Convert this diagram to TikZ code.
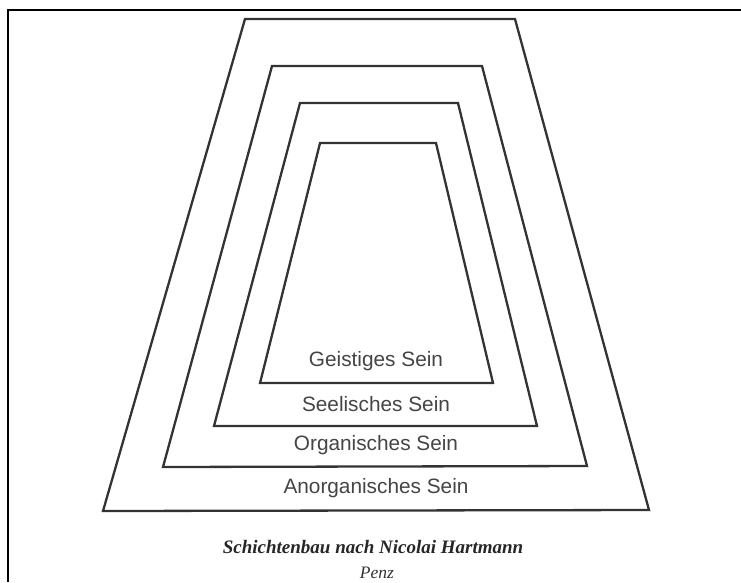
\documentclass[tikz,border=0pt]{standalone}
\usepackage{fontspec}
\setmainfont{Liberation Serif}
\newfontfamily\labelfont{Liberation Sans}
\definecolor{edgegray}{HTML}{333333}
\definecolor{textgray}{HTML}{454545}
\begin{document}
\begin{tikzpicture}[x=1pt,y=-1pt,
  layer/.style={draw=edgegray,line width=2.3pt,line join=miter},
  frameline/.style={draw=black,line width=2.6pt},
  layerlabel/.style={font=\labelfont\fontsize{20.8}{23}\selectfont,text=textgray,inner sep=0pt},
  captionbold/.style={font=\fontsize{19}{21}\selectfont\bfseries\itshape,text=black!85,inner sep=0pt},
  captionsmall/.style={font=\fontsize{17.5}{19}\selectfont\itshape,text=black!80,inner sep=0pt}]
\useasboundingbox (0,0) rectangle (741,582);
\fill[white] (0,0) rectangle (741,582);
% frame
\draw[frameline] (741,10) -- (8,10) -- (8,582);
% layers
\draw[layer] (245,19) -- (515,19) -- (649,510) -- (103,511) -- cycle;
\draw[layer] (272,66) -- (482,66) -- (587,466) -- (163,467) -- cycle;
\draw[layer] (300,103) -- (458,103) -- (537,426) -- (214,426) -- cycle;
\draw[layer] (320,143) -- (436,143) -- (493,383) -- (260,383) -- cycle;
% labels
\node[layerlabel] (geist) at (376,361) {Geistiges Sein};
\node[layerlabel] (seele) at (376,404) {Seelisches Sein};
\node[layerlabel] (organ) at (376,445) {Organisches Sein};
\node[layerlabel] (anorg) at (376,488) {Anorganisches Sein};
\node[captionbold] (title) at (373,547) {Schichtenbau nach Nicolai Hartmann};
\node[captionsmall] (author) at (377,573) {Penz};
\end{tikzpicture}
\end{document}
